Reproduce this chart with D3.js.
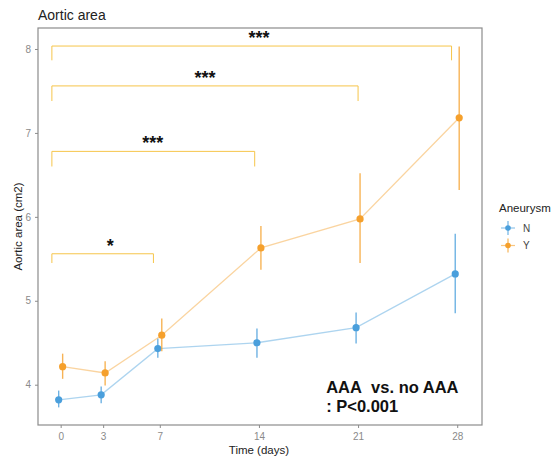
<!DOCTYPE html>
<html>
<head>
<meta charset="utf-8">
<script src="https://cdn.jsdelivr.net/npm/d3@7"></script>
<style>
  body { margin: 0; background: #fff; }
  text { font-family: "Liberation Sans", Arial, sans-serif; }
</style>
</head>
<body>
<div id="chart"></div>
<script>
// data
const days = [0, 3, 7, 14, 21, 28];
const groups = ["N", "Y"];
const meanN = [3.82, 3.88, 4.43, 4.50, 4.68, 5.32];
const lowN  = [3.73, 3.78, 4.32, 4.32, 4.49, 4.85];
const highN = [3.93, 3.98, 4.55, 4.67, 4.86, 5.80];
const meanY = [4.215, 4.14, 4.59, 5.63, 5.975, 7.18];
const lowY  = [4.07, 3.99, 4.40, 5.37, 5.45, 6.32];
const highY = [4.37, 4.28, 4.79, 5.89, 6.52, 8.03];
const yTicks = [4, 5, 6, 7, 8];

// significance brackets (days from, days to, y level, label)
const bracketFrom  = [-0.62, -0.62, -0.62, -0.62];
const bracketTo    = [27.6, 21.0, 13.7, 6.55];
const bracketY     = [8.035, 7.56, 6.78, 5.56];
const bracketDrop  = [0.17, 0.18, 0.18, 0.11];
const bracketLabel = ["***", "***", "***", "*"];
const bracketLabelX = [14.0, 10.2, 6.5, 3.5];

const colors = { N: "#4a9fdc", Y: "#f5a02c" };
const dodge = { N: -0.14, Y: 0.14 };

const width = 553, height = 458;
const margin = { top: 28, right: 71, bottom: 33, left: 38 };
const pw = width - margin.left - margin.right,
      ph = height - margin.top - margin.bottom;

const svg = d3.select("#chart").append("svg")
    .attr("width", width).attr("height", height);

const g = svg.append("g")
    .attr("transform", `translate(${margin.left},${margin.top})`);

const x = d3.scaleLinear().domain([-1.6, 29.75]).range([0, pw]);
const y = d3.scaleLinear().domain([3.52, 8.25]).range([ph, 0]);

// panel border
g.append("rect")
    .attr("width", pw).attr("height", ph)
    .attr("fill", "#fff").attr("stroke", "#8c8c8c").attr("stroke-width", 1.2);

// axes
const xAxis = g.append("g")
    .attr("transform", `translate(0,${ph})`)
    .call(d3.axisBottom(x).tickValues(days).tickSize(3).tickPadding(5));
const yAxis = g.append("g")
    .call(d3.axisLeft(y).tickValues(yTicks).tickFormat(d3.format("d")).tickSize(3).tickPadding(4));
[xAxis, yAxis].forEach(a => {
  a.select(".domain").remove();
  a.selectAll(".tick line").attr("stroke", "#8c8c8c");
  a.selectAll(".tick text").attr("fill", "#8a8a8a").style("font-size", "10px");
});

// brackets
bracketY.forEach((by, i) => {
  const x0 = x(bracketFrom[i]), x1 = x(bracketTo[i]);
  const y0 = y(by), y1 = y(by - bracketDrop[i]);
  g.append("path")
      .attr("d", `M${x0},${y1}L${x0},${y0}L${x1},${y0}L${x1},${y1}`)
      .attr("fill", "none").attr("stroke", "#f6c54a").attr("stroke-width", 1);
  g.append("text")
      .attr("x", x(bracketLabelX[i])).attr("y", y0 - 2)
      .attr("text-anchor", "middle")
      .style("font-size", "18px").style("font-weight", "bold")
      .attr("fill", "#111")
      .text(bracketLabel[i]);
});

// series
const series = [
  { key: "N", mean: meanN, low: lowN, high: highN },
  { key: "Y", mean: meanY, low: lowY, high: highY }
];

series.forEach(s => {
  const pts = days.map((d, i) => ({ d: d + dodge[s.key], m: s.mean[i], lo: s.low[i], hi: s.high[i] }));
  const line = d3.line().x(p => x(p.d)).y(p => y(p.m));
  g.append("path").datum(pts)
      .attr("d", line).attr("fill", "none")
      .attr("stroke", colors[s.key]).attr("stroke-opacity", 0.45).attr("stroke-width", 1.3);
  g.selectAll(null).data(pts).join("line")
      .attr("x1", p => x(p.d)).attr("x2", p => x(p.d))
      .attr("y1", p => y(p.lo)).attr("y2", p => y(p.hi))
      .attr("stroke", colors[s.key]).attr("stroke-opacity", 0.8).attr("stroke-width", 1.4);
  g.selectAll(null).data(pts).join("circle")
      .attr("cx", p => x(p.d)).attr("cy", p => y(p.m)).attr("r", 3.6)
      .attr("fill", colors[s.key]);
});

// annotation
const ann = g.append("text").attr("fill", "#111")
    .style("font-size", "16.5px").style("font-weight", "bold");
ann.append("tspan").attr("x", x(18.75)).attr("y", y(3.9))
    .text("AAA\u00a0 vs. no AAA");
ann.append("tspan").attr("x", x(18.75)).attr("y", y(3.67)).text(": P<0.001");

// titles
svg.append("text").attr("x", margin.left).attr("y", 20)
    .style("font-size", "14px").attr("fill", "#222").text("Aortic area");
svg.append("text")
    .attr("transform", `translate(22,${margin.top + ph / 2}) rotate(-90)`)
    .attr("text-anchor", "middle").style("font-size", "11.5px").attr("fill", "#222")
    .text("Aortic area (cm2)");
svg.append("text")
    .attr("x", margin.left + x(14)).attr("y", 454)
    .attr("text-anchor", "middle").style("font-size", "11.5px").attr("fill", "#222")
    .text("Time (days)");

// legend
const lg = svg.append("g").attr("transform", "translate(499,0)");
lg.append("text").attr("x", 0).attr("y", 212)
    .style("font-size", "11.5px").attr("fill", "#222").text("Aneurysm");
groups.forEach((k, i) => {
  const cy = 228 + i * 17.5, cx = 9;
  lg.append("line").attr("x1", cx - 7).attr("x2", cx + 7).attr("y1", cy).attr("y2", cy)
      .attr("stroke", colors[k]).attr("stroke-opacity", 0.6).attr("stroke-width", 1.2);
  lg.append("line").attr("x1", cx).attr("x2", cx).attr("y1", cy - 7).attr("y2", cy + 7)
      .attr("stroke", colors[k]).attr("stroke-opacity", 0.8).attr("stroke-width", 1.2);
  lg.append("circle").attr("cx", cx).attr("cy", cy).attr("r", 2.8).attr("fill", colors[k]);
  lg.append("text").attr("x", 24).attr("y", cy + 3.5)
      .style("font-size", "10px").attr("fill", "#444").text(k);
});
</script>
</body>
</html>
